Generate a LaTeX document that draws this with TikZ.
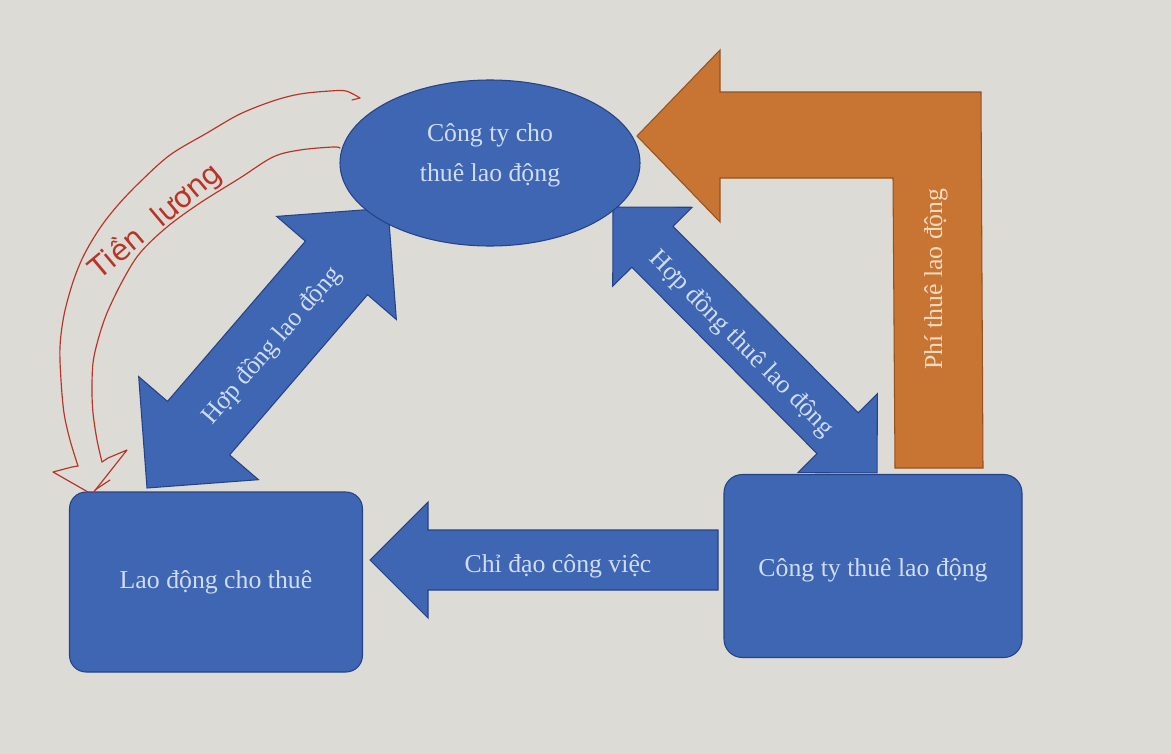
\documentclass[tikz,border=0pt]{standalone}
\usepackage{fontspec}
\setmainfont{Liberation Serif}
\newfontfamily\handfont{DejaVu Sans}
\usetikzlibrary{shapes.geometric}
\definecolor{paper}{RGB}{220,219,213}
\definecolor{myblue}{RGB}{62,102,178}
\definecolor{myblueedge}{RGB}{38,66,135}
\definecolor{myorange}{RGB}{200,117,52}
\definecolor{myorangeedge}{RGB}{150,82,32}
\definecolor{mytext}{RGB}{208,220,243}
\definecolor{orangetext}{RGB}{242,218,190}
\definecolor{myred}{RGB}{185,52,38}
\tikzset{
  blk/.style={fill=myblue, draw=myblueedge, line width=0.9pt, line join=miter},
  org/.style={fill=myorange, draw=myorangeedge, line width=0.9pt},
  lbl/.style={text=mytext, font=\fontsize{22}{34}\selectfont, align=center, inner sep=0pt},
  olbl/.style={text=orangetext, font=\fontsize{22}{34}\selectfont, inner sep=0pt},
  hand/.style={draw=myred, line width=1pt, line cap=round, line join=round},
}
\begin{document}
\begin{tikzpicture}[x=0.03cm,y=-0.03cm]
\fill[paper] (0,0) rectangle (1171,754);
\useasboundingbox (0,0) rectangle (1171,754);

% orange bent arrow
\draw[org] (637,136) -- (720,50) -- (720,92) -- (981,92) -- (983,468) -- (895,468)
  -- (893,178) -- (720,178) -- (720,222) -- cycle;
\node[olbl, rotate=90] (phi) at (936,279) {Phí thuê lao động};

% left double arrow
\begin{scope}[shift={(147,488)}, rotate=49.27]
\draw[blk] (0,0) -- (79,79) -- (79,41) -- (290.4,41) -- (290.4,79) -- (369.4,0)
  -- (290.4,-79) -- (290.4,-41) -- (79,-41) -- (79,-79) -- cycle;
\end{scope}
\node[lbl, rotate=49.27] (hd1) at (272,346) {Hợp đồng lao động};

% right double arrow
\begin{scope}[shift={(613,207)}, rotate=-45.2]
\draw[blk] (0,0) -- (56,56) -- (56,29) -- (318.8,29) -- (318.8,56) -- (374.8,0)
  -- (318.8,-56) -- (318.8,-29) -- (56,-29) -- (56,-56) -- cycle;
\end{scope}
\node[lbl, rotate=-45.2] (hd2) at (741,344) {Hợp đồng thuê lao động};

% bottom arrow
\draw[blk] (370,560) -- (428,502) -- (428,530) -- (718,530) -- (718,590) -- (428,590)
  -- (428,618) -- cycle;
\node[lbl] (cd) at (558,566) {Chỉ đạo công việc};

% main nodes
\node[ellipse, blk, minimum width=9cm, minimum height=4.98cm, inner sep=0pt] (ct) at (490,163) {};
\node[lbl] at ([yshift=0.24cm]ct.center) {Công ty cho\\thuê lao động};

\node[blk, rounded corners=0.5cm, minimum width=8.79cm, minimum height=5.4cm] (ld) at (216,582) {};
\node[lbl] at (ld.center) {Lao động cho thuê};

\node[blk, rounded corners=0.55cm, minimum width=8.94cm, minimum height=5.49cm] (ctt) at (873,566) {};
\node[lbl] at ([yshift=-0.12cm]ctt.center) {Công ty thuê lao động};

% handwritten red hollow arrow
\coordinate (r1) at (360,98);
\coordinate (r2) at (340,148);
\coordinate (rt) at (88,492);
\draw[hand] plot[smooth, tension=0.55] coordinates {(r1) (346,91) (330,91) (300,94) (273,101)
  (240,114) (207,133) (170,155) (140,182) (118,205) (100,228) (84,255) (73,282) (64,315)
  (60,347) (61,380) (64,413) (70,440) (78,466)};
\draw[hand] (352,100) -- (r1);
\draw[hand] (78,466) -- (72,467) -- (53,472) -- (rt);
\draw[hand] plot[smooth, tension=0.55] coordinates {(r2) (333,147) (300,150) (273,157)
  (240,178) (200,203) (167,227) (140,253) (123,280) (107,313)
  (98,340) (93,363) (92,390) (93,413) (97,440) (102,462)};
\draw[hand] (102,462) -- (108,458) -- (127,450) -- (93,493);
\draw[hand] (95,490) -- (110,480);
\node[text=myred, font=\handfont\fontsize{25}{30}\selectfont, rotate=40, inner sep=0pt] (tl) at (156,221) {Tiền \ lương};
\end{tikzpicture}
\end{document}
